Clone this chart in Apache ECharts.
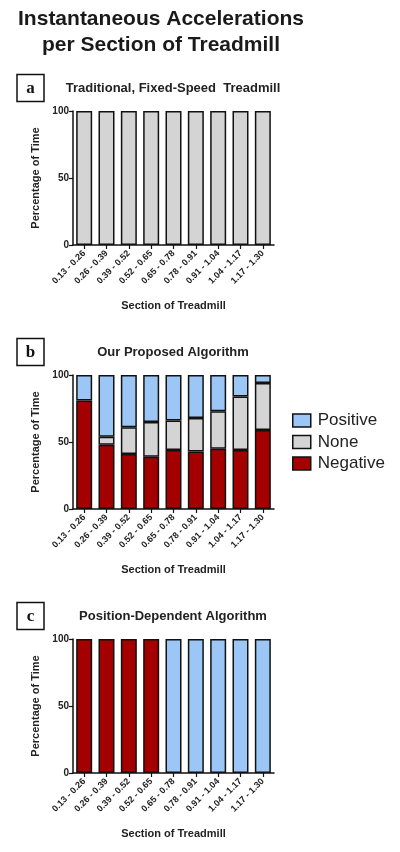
<!DOCTYPE html>
<html>
<head>
<meta charset="utf-8">
<script src="https://cdn.jsdelivr.net/npm/echarts@6/dist/echarts.min.js"></script>
<style>
html,body{margin:0;padding:0;background:#fff;}
#chart{width:400px;height:852px;}
</style>
</head>
<body>
<div id="chart"></div>
<script>
// ---- data ----
const categories = ['0.13 - 0.26','0.26 - 0.39','0.39 - 0.52','0.52 - 0.65','0.65 - 0.78','0.78 - 0.91','0.91 - 1.04','1.04 - 1.17','1.17 - 1.30'];
const yTicks = [0, 50, 100];
const seriesNames = ['Positive', 'None', 'Negative'];
// Panel a: Traditional, Fixed-Speed Treadmill
const aNegative = [0,0,0,0,0,0,0,0,0];
const aNone     = [100,100,100,100,100,100,100,100,100];
const aPositive = [0,0,0,0,0,0,0,0,0];
// Panel b: Our Proposed Algorithm
const bNegative = [81,48,41,39,44,43,45,44,59];
const bNone     = [0,6,20,26,22,25,28,40,35];
const bPositive = [19,46,39,35,34,32,27,16,6];
// Panel c: Position-Dependent Algorithm
const cNegative = [100,100,100,100,0,0,0,0,0];
const cNone     = [0,0,0,0,0,0,0,0,0];
const cPositive = [0,0,0,0,100,100,100,100,100];

const panelTitles = ['Traditional, Fixed-Speed  Treadmill', 'Our Proposed Algorithm', 'Position-Dependent Algorithm'];
const panelLetters = ['a', 'b', 'c'];
const mainTitle = 'Instantaneous Accelerations\nper Section of Treadmill';
const xName = 'Section of Treadmill';
const yName = 'Percentage of Time';

// ---- style ----
const colors = { Positive: '#9CC6F5', None: '#D4D4D4', Negative: '#A50000' };
const FONT = '"Liberation Sans", Arial, sans-serif';
const panels = [
  { neg: aNegative, none: aNone, pos: aPositive, top: 111 },
  { neg: bNegative, none: bNone, pos: bPositive, top: 375 },
  { neg: cNegative, none: cNone, pos: cPositive, top: 639 }
];
const grids = [], xAxes = [], yAxes = [], series = [], graphics = [];
const clean = arr => arr.map(v => (v === 0 ? null : v));

panels.forEach((p, i) => {
  grids.push({ left: 73, width: 201, top: p.top, height: 134 });
  xAxes.push({
    type: 'category', gridIndex: i, data: categories,
    axisLine: { lineStyle: { color: '#111', width: 1.5 } },
    axisTick: { show: true, alignWithLabel: true, length: 4, lineStyle: { color: '#111', width: 1.2 } },
    axisLabel: { rotate: 45, fontSize: 9, fontWeight: 'bold', color: '#222', fontFamily: FONT, margin: 7, interval: 0 },
    name: xName, nameLocation: 'middle', nameGap: 55,
    nameTextStyle: { fontSize: 11, fontWeight: 'bold', color: '#222', fontFamily: FONT }
  });
  yAxes.push({
    type: 'value', gridIndex: i, min: yTicks[0], max: yTicks[2], interval: yTicks[1] - yTicks[0],
    splitLine: { show: false },
    axisLine: { show: true, lineStyle: { color: '#111', width: 1.5 } },
    axisTick: { show: true, length: 4, lineStyle: { color: '#111', width: 1.2 } },
    axisLabel: { fontSize: 10, fontWeight: 'bold', color: '#222', fontFamily: FONT, margin: 4 },
    name: yName, nameLocation: 'middle', nameGap: 27,
    nameTextStyle: { fontSize: 11, fontWeight: 'bold', color: '#222', fontFamily: FONT }
  });
  const stack = 's' + i;
  [['Negative', p.neg], ['None', p.none], ['Positive', p.pos]].forEach(([name, arr]) => {
    series.push({
      type: 'bar', name: name, stack: stack, xAxisIndex: i, yAxisIndex: i,
      data: clean(arr), barWidth: 16,
      itemStyle: { color: colors[name], borderColor: '#111', borderWidth: 1.5 }
    });
  });
  const cy = p.top - 23;
  graphics.push({
    type: 'rect', shape: { x: 17, y: cy - 13.5, width: 27, height: 27 },
    style: { fill: '#fff', stroke: '#111', lineWidth: 1.5 }
  });
  graphics.push({
    type: 'text', x: 30.5, y: cy + 1,
    style: { text: panelLetters[i], font: 'bold 17px "Liberation Serif", "Times New Roman", serif', fill: '#111', align: 'center', verticalAlign: 'middle' }
  });
  graphics.push({
    type: 'text', x: 173, y: cy,
    style: { text: panelTitles[i], font: 'bold 13px ' + FONT, fill: '#222', align: 'center', verticalAlign: 'middle' }
  });
});

graphics.push({
  type: 'text', x: 161, y: 32,
  style: { text: mainTitle, font: 'bold 21px ' + FONT, fill: '#1a1a1a', align: 'center', verticalAlign: 'middle', lineHeight: 26 }
});

const chart = echarts.init(document.getElementById('chart'), null, { renderer: 'canvas' });
chart.setOption({
  animation: false,
  backgroundColor: '#fff',
  grid: grids,
  xAxis: xAxes,
  yAxis: yAxes,
  series: series,
  legend: {
    data: seriesNames, orient: 'vertical', left: 287, top: 407,
    icon: 'rect', itemWidth: 18, itemHeight: 13, itemGap: 4.5,
    itemStyle: { borderColor: '#111', borderWidth: 1.5 },
    textStyle: { fontSize: 17, color: '#222', fontFamily: FONT, padding: [0, 0, 0, 2] },
    selectedMode: false
  },
  graphic: graphics
});
</script>
</body>
</html>
